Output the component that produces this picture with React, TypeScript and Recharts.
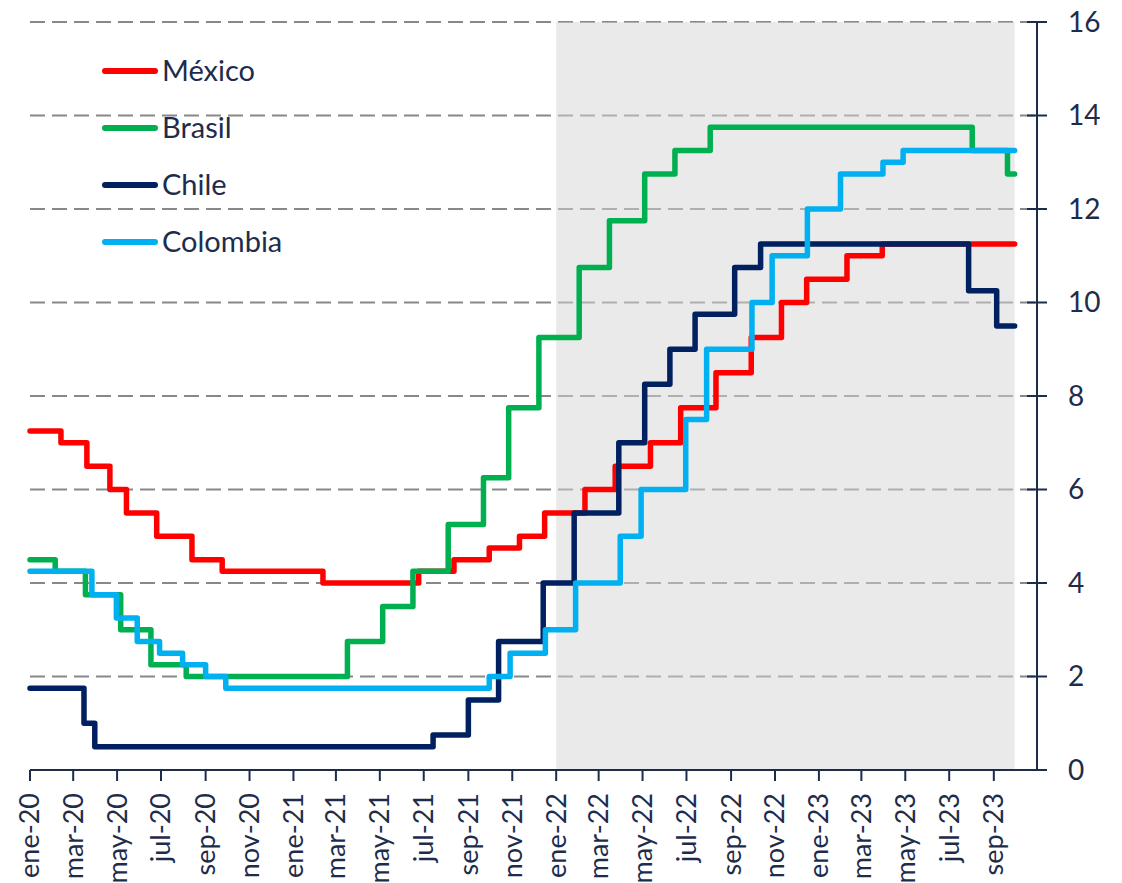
import React from 'react';
import { LineChart, Line, XAxis, YAxis, CartesianGrid, ReferenceArea, Legend } from 'recharts';

const meses = ['ene', 'feb', 'mar', 'abr', 'may', 'jun', 'jul', 'ago', 'sep', 'oct', 'nov', 'dic'];

const xTickLabels = [
  'ene-20', 'mar-20', 'may-20', 'jul-20', 'sep-20', 'nov-20',
  'ene-21', 'mar-21', 'may-21', 'jul-21', 'sep-21', 'nov-21',
  'ene-22', 'mar-22', 'may-22', 'jul-22', 'sep-22', 'nov-22',
  'ene-23', 'mar-23', 'may-23', 'jul-23', 'sep-23',
];
const yTicks = [0, 2, 4, 6, 8, 10, 12, 14, 16];

// fechas de cambio de tasa (última fecha = fin de la serie)
const mexicoFechas = ['2020-01-01', '2020-02-13', '2020-03-20', '2020-04-21', '2020-05-14', '2020-06-25', '2020-08-13', '2020-09-24', '2021-02-11', '2021-06-24', '2021-08-12', '2021-09-30', '2021-11-11', '2021-12-16', '2022-02-10', '2022-03-24', '2022-05-12', '2022-06-23', '2022-08-11', '2022-09-29', '2022-11-10', '2022-12-15', '2023-02-09', '2023-03-30', '2023-09-30'];
const mexicoTasas = [7.25, 7.0, 6.5, 6.0, 5.5, 5.0, 4.5, 4.25, 4.0, 4.25, 4.5, 4.75, 5.0, 5.5, 6.0, 6.5, 7.0, 7.75, 8.5, 9.25, 10.0, 10.5, 11.0, 11.25, 11.25];

const brasilFechas = ['2020-01-01', '2020-02-05', '2020-03-18', '2020-05-06', '2020-06-17', '2020-08-05', '2021-03-17', '2021-05-05', '2021-06-16', '2021-08-04', '2021-09-22', '2021-10-27', '2021-12-08', '2022-02-02', '2022-03-16', '2022-05-04', '2022-06-15', '2022-08-03', '2023-08-02', '2023-09-20', '2023-09-30'];
const brasilTasas = [4.5, 4.25, 3.75, 3.0, 2.25, 2.0, 2.75, 3.5, 4.25, 5.25, 6.25, 7.75, 9.25, 10.75, 11.75, 12.75, 13.25, 13.75, 13.25, 12.75, 12.75];

const chileFechas = ['2020-01-01', '2020-03-16', '2020-03-31', '2021-07-14', '2021-09-01', '2021-10-13', '2021-12-14', '2022-01-26', '2022-03-29', '2022-05-04', '2022-06-08', '2022-07-13', '2022-09-06', '2022-10-12', '2023-07-28', '2023-09-05', '2023-09-30'];
const chileTasas = [1.75, 1.0, 0.5, 0.75, 1.5, 2.75, 4.0, 5.5, 7.0, 8.25, 9.0, 9.75, 10.75, 11.25, 10.25, 9.5, 9.5];

const colombiaFechas = ['2020-01-01', '2020-03-27', '2020-04-30', '2020-05-29', '2020-06-29', '2020-07-31', '2020-09-01', '2020-09-29', '2021-09-30', '2021-10-29', '2021-12-17', '2022-01-28', '2022-03-31', '2022-04-29', '2022-06-30', '2022-07-29', '2022-09-30', '2022-10-28', '2022-12-16', '2023-01-31', '2023-03-31', '2023-04-28', '2023-09-30'];
const colombiaTasas = [4.25, 3.75, 3.25, 2.75, 2.5, 2.25, 2.0, 1.75, 2.0, 2.5, 3.0, 4.0, 5.0, 6.0, 7.5, 9.0, 10.0, 11.0, 12.0, 12.75, 13.0, 13.25, 13.25];

const inicioSombra = '2022-01-01';
const finSombra = '2023-09-30';
const finEje = '2023-10-31';

const TEXT = '#1e2c4c';
const FONT = 'Lato, "Open Sans", sans-serif';

// días desde 1-ene-2020
const dia = (s: string) => {
  const [y, m, d] = s.split('-').map(Number);
  return (Date.UTC(y, m - 1, d) - Date.UTC(2020, 0, 1)) / 86400000;
};

const serie = (fechas: string[], tasas: number[]) => fechas.map((f, i) => ({ d: dia(f), v: tasas[i] }));

const xTicks = xTickLabels.map((l) => {
  const [m, yy] = l.split('-');
  return (Date.UTC(2000 + Number(yy), meses.indexOf(m), 1) - Date.UTC(2020, 0, 1)) / 86400000;
});

const series = [
  { name: 'México', color: '#ff0000', data: serie(mexicoFechas, mexicoTasas) },
  { name: 'Brasil', color: '#00b050', data: serie(brasilFechas, brasilTasas) },
  { name: 'Chile', color: '#002060', data: serie(chileFechas, chileTasas) },
  { name: 'Colombia', color: '#00b0f0', data: serie(colombiaFechas, colombiaTasas) },
];

const XTick = (props: any) => {
  const { x, y, index } = props;
  return (
    <text
      transform={`translate(${x},${y + 12}) rotate(-90)`}
      textAnchor="end"
      dy="0.35em"
      fill={TEXT}
      fontSize={27}
      fontFamily={FONT}
    >
      {xTickLabels[index]}
    </text>
  );
};

const YTick = (props: any) => {
  const { x, y, payload } = props;
  return (
    <g>
      <line x1={x - 10} x2={x + 10} y1={y} y2={y} stroke={TEXT} strokeWidth={2} />
      <text x={x + 31} y={y} dy="0.35em" textAnchor="start" fill={TEXT} fontSize={28} fontFamily={FONT}>
        {payload.value}
      </text>
    </g>
  );
};

const LegendBox = () => (
  <svg width={260} height={230}>
    {series.map((s, i) => {
      const cy = 31 + i * 57;
      return (
        <g key={s.name}>
          <line x1={10} x2={60} y1={cy} y2={cy} stroke={s.color} strokeWidth={6} strokeLinecap="round" />
          <text x={67} y={cy} dy="0.35em" fill={TEXT} fontSize={29} fontFamily={FONT}>
            {s.name}
          </text>
        </g>
      );
    })}
  </svg>
);

export default function App() {
  return (
    <div style={{ width: 1122, height: 883, background: '#fff' }}>
      <style>{'body{margin:0}'}</style>
      <LineChart width={1122} height={883} margin={{ top: 22, right: 0, bottom: 0, left: 30 }}>
        <CartesianGrid vertical={false} stroke="#888888" strokeWidth={2} strokeDasharray="15 7" />
        <ReferenceArea
          x1={dia(inicioSombra)}
          x2={dia(finSombra)}
          y1={0}
          y2={16}
          fill="#d6d6d6"
          fillOpacity={0.5}
          stroke="none"
        />
        <XAxis
          type="number"
          dataKey="d"
          domain={[0, dia(finEje)]}
          ticks={xTicks}
          interval={0}
          height={113}
          tickSize={11}
          tickMargin={0}
          axisLine={{ stroke: TEXT, strokeWidth: 2 }}
          tickLine={{ stroke: TEXT, strokeWidth: 2 }}
          tick={<XTick />}
        />
        <YAxis
          orientation="right"
          domain={[0, 16]}
          ticks={yTicks}
          interval={0}
          width={85}
          tickSize={0}
          tickMargin={0}
          axisLine={{ stroke: TEXT, strokeWidth: 2 }}
          tickLine={false}
          tick={<YTick />}
        />
        <Legend
          layout="vertical"
          align="center"
          verticalAlign="middle"
          wrapperStyle={{ top: 40, left: 95, width: 260, height: 230 }}
          content={() => <LegendBox />}
        />
        {series.map((s) => (
          <Line
            key={s.name}
            data={s.data}
            dataKey="v"
            name={s.name}
            type="stepAfter"
            stroke={s.color}
            strokeWidth={5.5}
            strokeLinecap="round"
            strokeLinejoin="round"
            dot={false}
            activeDot={false}
            isAnimationActive={false}
          />
        ))}
      </LineChart>
    </div>
  );
}
